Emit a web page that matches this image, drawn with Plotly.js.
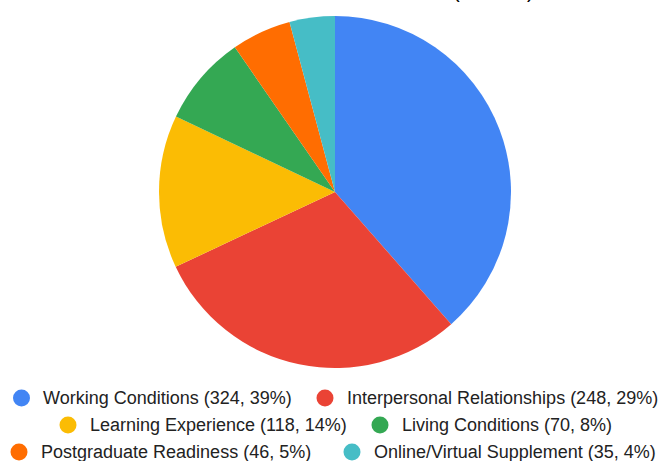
<!DOCTYPE html>
<html>
<head>
<meta charset="utf-8">
<script src="https://cdn.plot.ly/plotly-3.0.1.min.js"></script>
<style>
html,body{margin:0;padding:0;background:#fff;}
#chart{width:664px;height:461px;}
</style>
</head>
<body>
<div id="chart"></div>
<script>
const categories = ["Working Conditions", "Interpersonal Relationships", "Learning Experience", "Living Conditions", "Postgraduate Readiness", "Online/Virtual Supplement"];
const counts = [324, 248, 118, 70, 46, 35];
const percentLabels = ["39%", "29%", "14%", "8%", "5%", "4%"];
const colors = ["#4285F4", "#EA4335", "#FBBC04", "#34A853", "#FF6D01", "#46BDC6"];
const titleText = "(n = 841)";

const W = 664, H = 461;
// legend layout: [circle center x, text start x, row center y]
const legendPos = [
  [21.5, 42, 398], [325, 346, 398],
  [68, 89, 425], [380, 401, 425],
  [19, 40, 452], [352, 373, 452]
];

const trace = {
  type: 'pie',
  labels: categories,
  values: counts,
  marker: {colors: colors, line: {width: 0}},
  sort: false,
  direction: 'clockwise',
  rotation: 0,
  textinfo: 'none',
  hoverinfo: 'label+value+percent',
  showlegend: false,
  domain: {x: [6 / W, 1], y: [93 / H, 445 / H]}
};

const shapes = [], annotations = [];
categories.forEach((c, i) => {
  const p = legendPos[i];
  shapes.push({
    type: 'circle', xref: 'paper', yref: 'paper',
    xsizemode: 'pixel', ysizemode: 'pixel',
    xanchor: p[0] / W, yanchor: 1 - p[2] / H,
    x0: -8.5, x1: 8.5, y0: -8.5, y1: 8.5,
    fillcolor: colors[i], line: {width: 0}
  });
  annotations.push({
    xref: 'paper', yref: 'paper', x: p[1] / W, y: 1 - p[2] / H,
    xanchor: 'left', yanchor: 'middle', showarrow: false, borderpad: 0,
    text: c + ' (' + counts[i] + ', ' + percentLabels[i] + ')',
    font: {family: 'Liberation Sans, Arial, sans-serif', size: 18, color: '#222222'}
  });
});
annotations.push({
  xref: 'paper', yref: 'paper', x: 452 / W, y: 1, xanchor: 'left', yanchor: 'bottom',
  yshift: -3, showarrow: false, borderpad: 0, text: titleText,
  font: {family: 'Liberation Sans, Arial, sans-serif', size: 20, color: '#000000'}
});

const layout = {
  width: W, height: H,
  margin: {l: 0, r: 0, t: 0, b: 0},
  paper_bgcolor: '#ffffff',
  shapes: shapes,
  annotations: annotations
};

Plotly.newPlot('chart', [trace], layout, {displayModeBar: false, staticPlot: false});
</script>
</body>
</html>
